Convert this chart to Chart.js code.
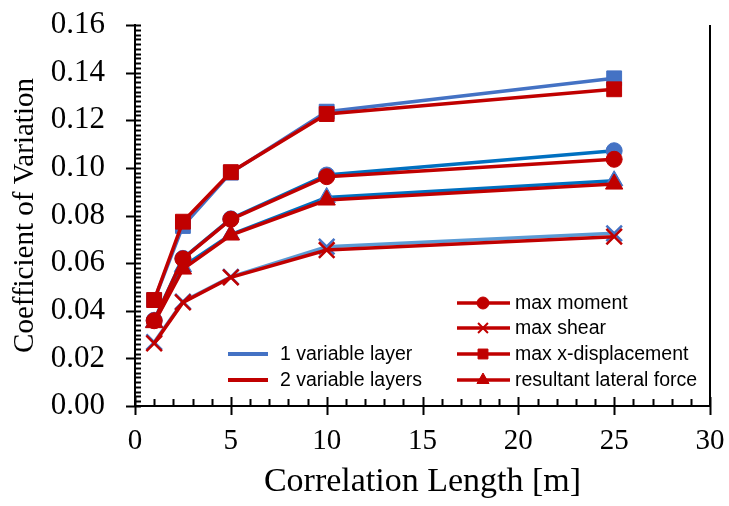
<!DOCTYPE html>
<html>
<head>
<meta charset="utf-8">
<script src="https://cdn.jsdelivr.net/npm/chart.js@4"></script>
<style>
  html, body { margin: 0; padding: 0; background: #fff; }
  #wrap { width: 729px; height: 506px; }
</style>
</head>
<body>
<div id="wrap"><canvas id="cvChart" width="729" height="506"></canvas></div>
<script>
// correlation lengths [m]
const lengths = [1, 2.5, 5, 10, 25];

// 1 variable layer
const momentOne = [0.036, 0.062, 0.0786, 0.097, 0.1072];
const shearOne = [0.0268, 0.0438, 0.0542, 0.0669, 0.0725];
const dispOne = [0.0445, 0.0756, 0.098, 0.1236, 0.1376];
const forceOne = [0.0352, 0.0585, 0.072, 0.0876, 0.0946];

// 2 variable layers
const momentTwo = [0.0358, 0.0618, 0.0784, 0.0963, 0.1036];
const shearTwo = [0.0263, 0.0435, 0.054, 0.0655, 0.0711];
const dispTwo = [0.0445, 0.0774, 0.0982, 0.1226, 0.133];
const forceTwo = [0.035, 0.0575, 0.0718, 0.0865, 0.0932];

const xTicks = [0, 5, 10, 15, 20, 25, 30];
const yTicks = [0, 0.02, 0.04, 0.06, 0.08, 0.1, 0.12, 0.14, 0.16];

const layerNames = ['1 variable layer', '2 variable layers'];
const measureNames = ['max moment', 'max shear', 'max x-displacement', 'resultant lateral force'];

const RED = '#C00000';
const BLUE = '#4472C4';
const BLUE_DARK = '#0070C0';

const pts = arr => arr.map((v, i) => ({ x: lengths[i], y: v }));

function series(label, values, color, lineColor, style, radius) {
  return {
    label: label,
    data: pts(values),
    borderColor: lineColor,
    backgroundColor: color,
    pointBackgroundColor: color,
    pointBorderColor: color,
    pointStyle: style,
    pointRadius: radius,
    pointBorderWidth: style === 'crossRot' ? 2.5 : 1,
    borderWidth: 3.5,
    tension: 0,
    fill: false,
  };
}

// red ones first so they sit on top of the blue ones
const datasets = [
  series('moment 2', momentTwo, RED, RED, 'circle', 8),
  series('shear 2', shearTwo, RED, RED, 'crossRot', 11),
  series('disp 2', dispTwo, RED, RED, 'rect', 10.5),
  series('force 2', forceTwo, RED, RED, 'triangle', 10),
  series('moment 1', momentOne, BLUE, BLUE_DARK, 'circle', 8),
  series('shear 1', shearOne, BLUE, '#5B9BD5', 'crossRot', 11),
  series('disp 1', dispOne, BLUE, BLUE, 'rect', 10.5),
  series('force 1', forceOne, BLUE, BLUE_DARK, 'triangle', 10),
];

// axis ticks (major crossing / minor inside) and right frame line
const tickMarks = {
  id: 'tickMarks',
  afterDraw(chart) {
    const { ctx, scales: { x, y }, chartArea: a } = chart;
    ctx.save();
    ctx.strokeStyle = '#000';
    ctx.lineWidth = 2;
    ctx.beginPath();
    for (let i = 0; i <= 80; i++) {
      const py = Math.round(y.getPixelForValue(i * 0.002)) + 0.5;
      ctx.moveTo(a.left, py);
      ctx.lineTo(a.left + 6, py);
    }
    yTicks.forEach(v => {
      const py = Math.round(y.getPixelForValue(v)) + 0.5;
      ctx.moveTo(a.left - 9, py);
      ctx.lineTo(a.left, py);
    });
    for (let i = 0; i <= 30; i++) {
      const px = Math.round(x.getPixelForValue(i)) + 0.5;
      ctx.moveTo(px, a.bottom);
      ctx.lineTo(px, a.bottom - 7);
    }
    xTicks.forEach(v => {
      const px = Math.round(x.getPixelForValue(v)) + 0.5;
      ctx.moveTo(px, a.bottom - 9);
      ctx.lineTo(px, a.bottom + 9);
    });
    ctx.moveTo(a.right, a.top);
    ctx.lineTo(a.right, a.bottom);
    ctx.stroke();
    ctx.restore();
  }
};

// two legends inside the plot
const legends = {
  id: 'legends',
  afterDraw(chart) {
    const ctx = chart.ctx;
    ctx.save();
    ctx.font = '19.5px "Liberation Sans", Arial, sans-serif';
    ctx.textBaseline = 'middle';
    ctx.fillStyle = '#000';
    [[BLUE, 354], [RED, 380]].forEach(([c, yy], i) => {
      ctx.strokeStyle = c;
      ctx.lineWidth = 4;
      ctx.beginPath();
      ctx.moveTo(228, yy);
      ctx.lineTo(268, yy);
      ctx.stroke();
      ctx.fillText(layerNames[i], 280, yy + 1);
    });
    const styles = [['circle', 6], ['crossRot', 7], ['rect', 7], ['triangle', 7]];
    const rows = [303, 328, 354, 380];
    measureNames.forEach((name, i) => {
      const yy = rows[i];
      ctx.strokeStyle = RED;
      ctx.lineWidth = 3.5;
      ctx.beginPath();
      ctx.moveTo(457, yy);
      ctx.lineTo(510, yy);
      ctx.stroke();
      ctx.fillStyle = RED;
      ctx.lineWidth = styles[i][0] === 'crossRot' ? 2 : 1;
      Chart.helpers.drawPoint(ctx, { pointStyle: styles[i][0], radius: styles[i][1], rotation: 0, borderWidth: 1 }, 483, yy);
      ctx.fillStyle = '#000';
      ctx.fillText(name, 515, yy + 1);
    });
    ctx.restore();
  }
};

const serif = '"Liberation Serif", "Times New Roman", serif';

new Chart(document.getElementById('cvChart'), {
  type: 'line',
  data: { datasets: datasets },
  options: {
    responsive: false,
    animation: false,
    events: [],
    layout: { padding: { left: 0, right: 19, top: 25, bottom: 0 } },
    scales: {
      x: {
        type: 'linear',
        min: 0,
        max: 30,
        afterFit: s => { s.height = 100; s.paddingLeft = 0; s.paddingRight = 0; },
        afterBuildTicks: s => { s.ticks = xTicks.map(v => ({ value: v })); },
        grid: { display: false, drawTicks: false },
        border: { display: true, color: '#000', width: 2 },
        ticks: { color: '#000', font: { family: serif, size: 29 }, padding: 18, maxRotation: 0 },
        title: { display: true, text: 'Correlation Length [m]', color: '#000', font: { family: serif, size: 34 }, padding: { top: 5 } },
      },
      y: {
        min: 0,
        max: 0.16,
        afterFit: s => { s.width = 135; s.paddingTop = 0; s.paddingBottom = 0; },
        afterBuildTicks: s => { s.ticks = yTicks.map(v => ({ value: v })); },
        grid: { display: false, drawTicks: false },
        border: { display: true, color: '#000', width: 2 },
        ticks: { color: '#000', font: { family: serif, size: 31 }, padding: 30, callback: v => v.toFixed(2) },
        title: { display: true, text: 'Coefficient of Variation', color: '#000', font: { family: serif, size: 29 }, padding: { top: 8, bottom: 2 } },
      },
    },
    plugins: {
      legend: { display: false },
      tooltip: { enabled: false },
    },
  },
  plugins: [tickMarks, legends],
});
</script>
</body>
</html>
